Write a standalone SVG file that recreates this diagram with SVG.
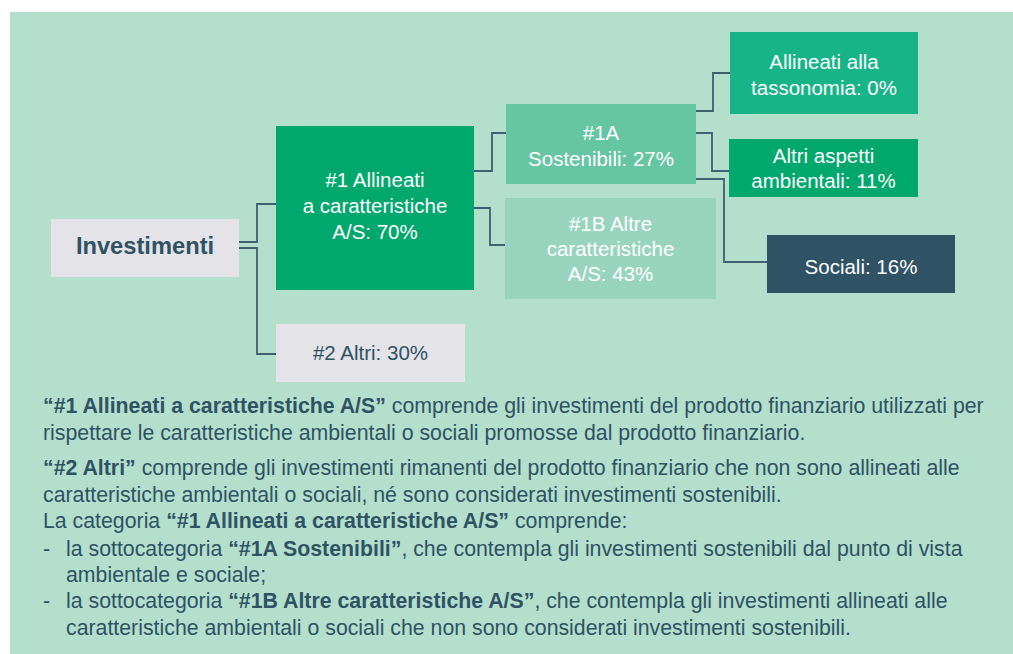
<svg xmlns="http://www.w3.org/2000/svg" width="1013" height="654" viewBox="0 0 1013 654">
<style>
.bg{fill:#b3dfcc}
.lbl{font-family:"Liberation Sans",Arial,sans-serif;font-size:20.5px;text-anchor:middle;fill:#ffffff}
.dark{fill:#2f5264}
.big{font-size:23.7px;font-weight:bold}
.conn{fill:none;stroke:#40606f;stroke-width:1.8}
.body{font-family:"Liberation Sans",Arial,sans-serif;font-size:21.3px;fill:#2f5264}
.b{font-weight:bold}
</style>
<rect class="bg" x="10" y="12" width="1003" height="642"/>
<g id="connectors">
<path class="conn" d="M239,242 H257 V204 H276"/>
<path class="conn" d="M239,248 H257 V354 H276"/>
<path class="conn" d="M474,171 H492 V133 H506"/>
<path class="conn" d="M474,208 H490 V245 H505"/>
<path class="conn" d="M696,111 H713 V73 H730"/>
<path class="conn" d="M696,133 H712 V171 H729"/>
<path class="conn" d="M696,179 H724 V262 H767"/>
</g>
<g id="investimenti">
<rect x="51" y="219" width="188" height="58" fill="#e3e3e8"/>
<text class="lbl dark big" x="145" y="254">Investimenti</text>
</g>
<g id="n1">
<rect x="276" y="126" width="198" height="164" fill="#00a86d"/>
<text class="lbl" x="375" y="187">#1 Allineati</text>
<text class="lbl" x="375" y="213">a caratteristiche</text>
<text class="lbl" x="375" y="238.5">A/S: 70%</text>
</g>
<g id="n2">
<rect x="276" y="324" width="189" height="58" fill="#e3e3e8"/>
<text class="lbl dark" x="370.5" y="359.5">#2 Altri: 30%</text>
</g>
<g id="n1a">
<rect x="506" y="104" width="190" height="80" fill="#66c5a2"/>
<text class="lbl" x="601" y="139.5">#1A</text>
<text class="lbl" x="601" y="165.5">Sostenibili: 27%</text>
</g>
<g id="n1b">
<rect x="505" y="198" width="211" height="101" fill="#99d5be"/>
<text class="lbl" x="610.5" y="230.5">#1B Altre</text>
<text class="lbl" x="610.5" y="256">caratteristiche</text>
<text class="lbl" x="610.5" y="281">A/S: 43%</text>
</g>
<g id="tassonomia">
<rect x="730" y="32" width="188" height="82" fill="#16b487"/>
<text class="lbl" x="824" y="68.5">Allineati alla</text>
<text class="lbl" x="824" y="94.5">tassonomia: 0%</text>
</g>
<g id="ambientali">
<rect x="729" y="139" width="189" height="58" fill="#00a86d"/>
<text class="lbl" x="823.5" y="162.5">Altri aspetti</text>
<text class="lbl" x="823.5" y="187.5">ambientali: 11%</text>
</g>
<g id="sociali">
<rect x="767" y="235" width="188" height="58" fill="#2f5264"/>
<text class="lbl" x="861" y="273.5">Sociali: 16%</text>
</g>
<g id="legend">
<text class="body" x="43" y="413.3"><tspan class="b">“#1 Allineati a caratteristiche A/S”</tspan> comprende gli investimenti del prodotto finanziario utilizzati per</text>
<text class="body" x="43" y="439.5">rispettare le caratteristiche ambientali o sociali promosse dal prodotto finanziario.</text>
<text class="body" x="43" y="475"><tspan class="b">“#2 Altri”</tspan> comprende gli investimenti rimanenti del prodotto finanziario che non sono allineati alle</text>
<text class="body" x="43" y="501.5">caratteristiche ambientali o sociali, né sono considerati investimenti sostenibili.</text>
<text class="body" x="43" y="528">La categoria <tspan class="b">“#1 Allineati a caratteristiche A/S”</tspan> comprende:</text>
<text class="body" x="43" y="555.5">-</text>
<text class="body" x="66" y="555.5">la sottocategoria <tspan class="b">“#1A Sostenibili”</tspan>, che contempla gli investimenti sostenibili dal punto di vista</text>
<text class="body" x="66" y="581.5">ambientale e sociale;</text>
<text class="body" x="43" y="608">-</text>
<text class="body" x="66" y="608">la sottocategoria <tspan class="b">“#1B Altre caratteristiche A/S”</tspan>, che contempla gli investimenti allineati alle</text>
<text class="body" x="66" y="634.5">caratteristiche ambientali o sociali che non sono considerati investimenti sostenibili.</text>
</g>
</svg>
